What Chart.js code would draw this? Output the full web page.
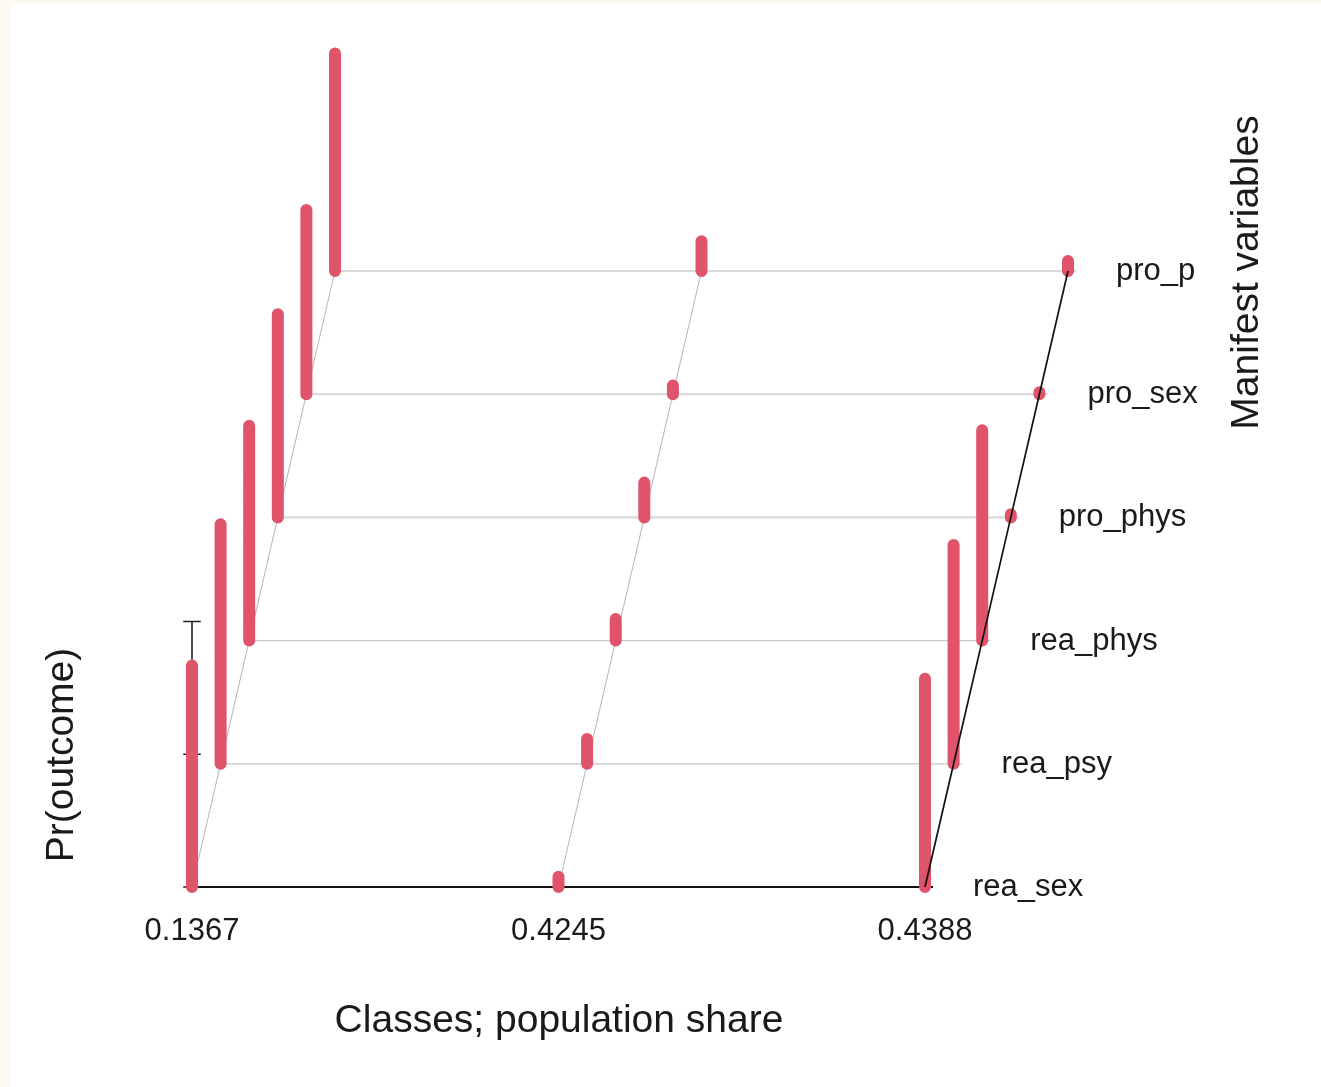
<!DOCTYPE html>
<html>
<head>
<meta charset="utf-8">
<script src="https://cdn.jsdelivr.net/npm/chart.js@4.4.1/dist/chart.umd.min.js"></script>
<style>
  html, body { margin: 0; padding: 0; background: #ffffff; overflow: hidden; }
  #wrap { width: 1321px; height: 1087px; position: relative; }
</style>
</head>
<body>
<div id="wrap"><canvas id="c"></canvas></div>
<script>
// ---------------- data ----------------
const classLabels = ["0.1367", "0.4245", "0.4388"];           // population share per class
const variableLabels = ["rea_sex", "rea_psy", "rea_phys", "pro_phys", "pro_sex", "pro_p"];
const class1Probs = [0.834, 0.902, 0.809, 0.765, 0.694, 0.819];
const class2Probs = [0.039, 0.093, 0.081, 0.131, 0.033, 0.112];
const class3Probs = [0.784, 0.824, 0.792, 0.012, 0.007, 0.038];
const zTicks = [0, 0.5, 1];
const xTitle = "Classes; population share";
const yTitle = "Manifest variables";
const zTitle = "Pr(outcome)";

// ---------------- projection (pseudo 3D) ----------------
const classProbs = [class1Probs, class2Probs, class3Probs];
const DEPTH_X = 28.6 / 366.5;   // x shift (class units) per manifest variable
const PROB_Y = 265.5 / 123.2;   // height (row units) of probability 1
const ROW_EXT = 0.022;          // small overhang of the row lines
const TICK_HALF = 0.024;
function px(ci, vi) { return ci + vi * DEPTH_X; }
function py(vi, p) { return vi + p * PROB_Y; }
const GAP = { x: null, y: null };

const nClass = classLabels.length;
const nVar = variableLabels.length;
const lastClass = nClass - 1;

const datasets = [];
function addLine(points, color, width, order, cap) {
  datasets.push({
    data: points, showLine: true, borderColor: color, borderWidth: width,
    pointRadius: 0, pointHoverRadius: 0, order: order, fill: false, tension: 0,
    borderCapStyle: cap || 'butt', borderJoinStyle: 'round', spanGaps: false, clip: false
  });
}

// row lines (one per manifest variable)
variableLabels.forEach((v, j) => {
  const pts = [{ x: px(0, j), y: py(j, 0) }, { x: px(lastClass, j) + ROW_EXT, y: py(j, 0) }];
  if (j === 0) addLine(pts, '#111111', 2, 8);
  else if (v.startsWith('pro')) addLine(pts, '#dadada', 2.2, 10);
  else addLine(pts, '#c6c6c6', 1.3, 10);
});

// depth lines for each class
classLabels.forEach((c, i) => {
  const pts = variableLabels.map((v, j) => ({ x: px(i, j), y: py(j, 0) }));
  if (i === lastClass) addLine(pts, '#111111', 1.7, 1);
  else addLine(pts, '#bcbcbc', 1.1, 9);
});

// z axis with ticks
addLine([{ x: px(0, 0), y: py(0, 0) }, { x: px(0, 0), y: py(0, zTicks[zTicks.length - 1]) }], '#222222', 1.6, 7);
const tickPts = [];
zTicks.forEach(t => {
  tickPts.push({ x: px(0, 0) - TICK_HALF, y: py(0, t) }, { x: px(0, 0) + TICK_HALF, y: py(0, t) }, GAP);
});
addLine(tickPts, '#222222', 1.6, 7);

// probability bars
const barPts = [];
classProbs.forEach((probs, i) => {
  probs.forEach((p, j) => {
    barPts.push({ x: px(i, j), y: py(j, 0) }, { x: px(i, j), y: py(j, p) }, GAP);
  });
});
addLine(barPts, '#DF536B', 12, 5, 'round');

// ---------------- layout of the canvas ----------------
const W = 1321, H = 1087;
const ORIGIN_X = 192, CLASS_PX = 366.5;
const ORIGIN_Y = 887, ROW_PX = 123.2;

const bgPlugin = {
  id: 'bg',
  beforeDraw(chart) {
    const ctx = chart.ctx;
    ctx.save();
    ctx.fillStyle = '#fcf8f2';
    ctx.fillRect(0, 0, chart.width, chart.height);
    ctx.fillStyle = '#ffffff';
    ctx.fillRect(11, 5, chart.width - 11, chart.height - 5);
    ctx.restore();
  }
};

const textPlugin = {
  id: 'texts',
  afterDraw(chart) {
    const ctx = chart.ctx;
    const xs = chart.scales.x, ys = chart.scales.y;
    ctx.save();
    ctx.fillStyle = '#1a1a1a';
    // class labels
    ctx.font = '31px "Liberation Sans", Arial, sans-serif';
    ctx.textAlign = 'center';
    ctx.textBaseline = 'alphabetic';
    classLabels.forEach((c, i) => {
      ctx.fillText(c, xs.getPixelForValue(px(i, 0)), ys.getPixelForValue(py(0, 0)) + 53);
    });
    // variable labels
    ctx.save();
    ctx.beginPath();
    ctx.rect(0, 0, 1197, H);
    ctx.clip();
    ctx.textAlign = 'left';
    variableLabels.forEach((v, j) => {
      ctx.fillText(v, xs.getPixelForValue(px(lastClass, j)) + 48, ys.getPixelForValue(py(j, 0)) + 9);
    });
    ctx.restore();
    // titles
    ctx.font = '39px "Liberation Sans", Arial, sans-serif';
    ctx.textAlign = 'center';
    ctx.fillText(xTitle, (xs.getPixelForValue(px(0, 0)) + xs.getPixelForValue(px(lastClass, 0))) / 2 + 0.5, 1032);
    ctx.save();
    ctx.translate(1258, 272.5);
    ctx.rotate(-Math.PI / 2);
    ctx.fillText(yTitle, 0, 0);
    ctx.restore();
    ctx.save();
    ctx.translate(73, 755);
    ctx.rotate(-Math.PI / 2);
    ctx.fillText(zTitle, 0, 0);
    ctx.restore();
    ctx.restore();
  }
};

new Chart(document.getElementById('c'), {
  type: 'scatter',
  data: { datasets: datasets },
  options: {
    responsive: true,
    maintainAspectRatio: false,
    animation: false,
    events: [],
    layout: { padding: 0 },
    plugins: { legend: { display: false }, tooltip: { enabled: false } },
    scales: {
      x: { type: 'linear', display: false, bounds: 'data',
           min: -ORIGIN_X / CLASS_PX, max: (W - ORIGIN_X) / CLASS_PX },
      y: { type: 'linear', display: false, bounds: 'data',
           min: -(H - ORIGIN_Y) / ROW_PX, max: ORIGIN_Y / ROW_PX }
    }
  },
  plugins: [bgPlugin, textPlugin]
});
</script>
</body>
</html>
